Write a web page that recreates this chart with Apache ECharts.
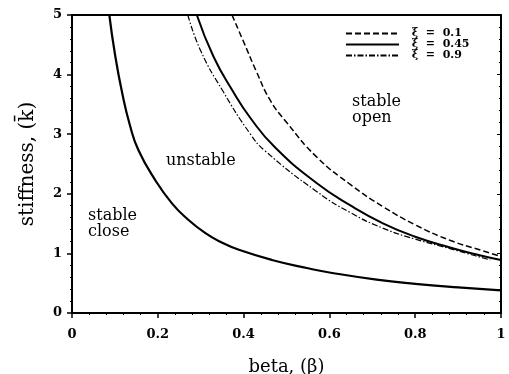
<!DOCTYPE html>
<html>
<head>
<meta charset="utf-8">
<script src="https://cdn.jsdelivr.net/npm/echarts@6/dist/echarts.min.js"></script>
<style>
  html, body { margin: 0; padding: 0; background: #fff; }
  #main { width: 509px; height: 374px; }
</style>
</head>
<body>
<div id="main"></div>
<script>
// boundary between "stable close" and "unstable" (same for every xi)
var betaLow = [0.087, 0.1, 0.117, 0.135, 0.155, 0.194, 0.233, 0.27, 0.311, 0.35, 0.389, 0.466, 0.55, 0.6, 0.71, 0.8, 0.9, 1.0];
var kLow    = [5.0, 4.35, 3.69, 3.15, 2.73, 2.23, 1.84, 1.57, 1.34, 1.18, 1.06, 0.89, 0.75, 0.68, 0.56, 0.49, 0.43, 0.38];

// upper boundaries, one per damping ratio
var betaXi01 = [0.373, 0.40, 0.43, 0.462, 0.5, 0.57, 0.65, 0.726, 0.8, 0.881, 0.95, 1.0];
var kXi01    = [5.0, 4.55, 4.05, 3.57, 3.2, 2.62, 2.15, 1.78, 1.48, 1.22, 1.06, 0.95];

var betaXi045 = [0.291, 0.33, 0.375, 0.415, 0.473, 0.57, 0.65, 0.726, 0.8, 0.881, 0.95, 1.0];
var kXi045    = [5.0, 4.30, 3.72, 3.28, 2.78, 2.18, 1.80, 1.50, 1.28, 1.10, 0.97, 0.89];

var betaXi09 = [0.270, 0.30, 0.352, 0.415, 0.45, 0.57, 0.65, 0.726, 0.8, 0.881, 0.94, 0.975];
var kXi09    = [5.0, 4.40, 3.72, 3.01, 2.72, 2.04, 1.68, 1.42, 1.24, 1.08, 0.96, 0.89];

var legendNames = ['\u03be  =  0.1', '\u03be  =  0.45', '\u03be  =  0.9'];

function pairs(xs, ys) {
    return xs.map(function(x, i) { return [x, ys[i]]; });
}

var serif = 'DejaVu Serif';
var chart = echarts.init(document.getElementById('main'));

chart.setOption({
    animation: false,
    backgroundColor: '#fff',
    color: ['#000', '#000', '#000', '#000'],
    grid: { left: 72, right: 8, top: 15, bottom: 61, show: false, outerBoundsMode: 'none', containLabel: false },
    legend: {
        orient: 'vertical',
        left: 345,
        top: 28,
        padding: 0,
        itemGap: 0,
        itemWidth: 53,
        itemHeight: 8,
        data: legendNames,
        formatter: '  {name}',
        itemStyle: { opacity: 0 },
        textStyle: { fontFamily: serif, fontSize: 11, fontWeight: 'bold', color: '#000', lineHeight: 9.5 }
    },
    xAxis: [{
        type: 'value', min: 0, max: 1, interval: 0.2,
        name: 'beta, (\u03b2)', nameLocation: 'middle', nameGap: 45,
        nameTextStyle: { fontFamily: serif, fontSize: 18, color: '#000' },
        axisLine: { lineStyle: { color: '#000', width: 2 } },
        axisTick: { length: 5, lineStyle: { color: '#000', width: 1.5 } },
        minorTick: { show: true, splitNumber: 5, length: 2, lineStyle: { color: '#000' } },
        splitLine: { show: false },
        axisLabel: {
            margin: 15, fontFamily: serif, fontSize: 13, fontWeight: 'bold', color: '#000',
            formatter: function(v) { return v === 0 ? '0' : v === 1 ? '1' : v.toFixed(1); }
        }
    }, {
        type: 'value', min: 0, max: 1, position: 'top',
        axisLine: { show: true, onZero: false, lineStyle: { color: '#000', width: 2 } },
        axisTick: { show: false }, axisLabel: { show: false }, splitLine: { show: false }
    }],
    yAxis: [{
        type: 'value', min: 0, max: 5, interval: 1,
        name: 'stiffness, (k\u0304)', nameLocation: 'middle', nameGap: 34,
        nameTextStyle: { fontFamily: serif, fontSize: 20, color: '#000' },
        axisLine: { show: true, lineStyle: { color: '#000', width: 2 } },
        axisTick: { show: true, length: 5, lineStyle: { color: '#000', width: 1.5 } },
        minorTick: { show: true, splitNumber: 5, length: 2, lineStyle: { color: '#000' } },
        splitLine: { show: false },
        axisLabel: { margin: 10, fontFamily: serif, fontSize: 13, fontWeight: 'bold', color: '#000' }
    }, {
        type: 'value', min: 0, max: 5, interval: 1, position: 'right',
        axisLine: { show: true, onZero: false, lineStyle: { color: '#000', width: 2 } },
        axisTick: { show: true, inside: true, length: 4, lineStyle: { color: '#000' } },
        minorTick: { show: true, splitNumber: 5, length: 2, lineStyle: { color: '#000' } },
        axisLabel: { show: false }, splitLine: { show: false }
    }],
    graphic: [
        { type: 'text', left: 166, top: 153, style: { text: 'unstable', font: '16px "DejaVu Serif"', fill: '#000' } },
        { type: 'text', left: 352, top: 94, style: { text: 'stable\nopen', font: '16px "DejaVu Serif"', fill: '#000', lineHeight: 16 } },
        { type: 'text', left: 88, top: 208, style: { text: 'stable\nclose', font: '16px "DejaVu Serif"', fill: '#000', lineHeight: 16 } }
    ],
    series: [{
        name: 'low', type: 'line', smooth: true, symbol: 'none',
        data: pairs(betaLow, kLow),
        lineStyle: { color: '#000', width: 2.2 }
    }, {
        name: legendNames[0], type: 'line', smooth: true, symbol: 'none',
        data: pairs(betaXi01, kXi01),
        lineStyle: { color: '#000', width: 1.5, type: [6, 3] }
    }, {
        name: legendNames[1], type: 'line', smooth: true, symbol: 'none',
        data: pairs(betaXi045, kXi045),
        lineStyle: { color: '#000', width: 2 }
    }, {
        name: legendNames[2], type: 'line', smooth: true, symbol: 'none',
        data: pairs(betaXi09, kXi09),
        lineStyle: { color: '#000', width: 1.2, type: [6, 2, 1.5, 2] }
    }]
});
</script>
</body>
</html>
